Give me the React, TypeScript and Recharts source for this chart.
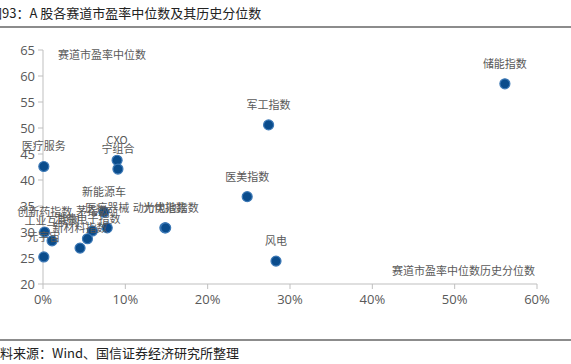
import { ScatterChart, Scatter, XAxis, YAxis } from 'recharts'

// 赛道名称、历史分位数(%)、市盈率中位数
const tracks = [
  '储能指数', '军工指数', '医美指数', '风电', '医疗服务', 'CXO', '宁组合',
  '光伏指数', '动力电池指数', '新能源车', '医疗器械', '创新药指数', '茅指数',
  '工业互联网', '消费电子指数', '新材料指数', '元宇宙',
]
const percentile = [
  56.1, 27.4, 24.8, 28.3, 0.1, 9.0, 9.1,
  14.8, 14.9, 7.4, 7.8, 0.2, 6.0,
  1.1, 5.4, 4.5, 0.1,
]
const medianPe = [
  58.5, 50.6, 36.8, 24.4, 42.6, 43.8, 42.1,
  30.8, 30.8, 33.8, 30.8, 30.0, 30.2,
  28.3, 28.7, 26.9, 25.2,
]
const xTicks = [0, 10, 20, 30, 40, 50, 60]
const yTicks = [20, 25, 30, 35, 40, 45, 50, 55, 60, 65]

const data = tracks.map((name, i) => ({ name, x: percentile[i], y: medianPe[i] }))

const grey = '#595959'
const cjk = '"Noto Sans CJK SC", "Noto Sans", sans-serif'
const tickFont = '"Open Sans", "Noto Sans CJK SC", sans-serif'

function PointWithLabel(props: any) {
  const { cx, cy, payload } = props
  return (
    <g>
      <circle cx={cx} cy={cy} r={5} fill="#0a4c8c" stroke="#3d79b6" strokeWidth={1.2} />
      <text x={cx} y={cy - 16} textAnchor="middle" fontSize={11} fill={grey} fontFamily={cjk}>
        {payload.name}
      </text>
    </g>
  )
}

export default function App() {
  return (
    <div style={{ position: 'relative', width: 571, height: 364, overflow: 'hidden', background: '#fff' }}>
      <style>{'body{margin:0}'}</style>
      <div
        style={{
          position: 'absolute', left: -11, top: 4, fontSize: 13, fontFamily: cjk,
          color: '#222', whiteSpace: 'nowrap', lineHeight: '18px',
        }}
      >
        图93：A 股各赛道市盈率中位数及其历史分位数
      </div>
      <div style={{ position: 'absolute', left: 0, top: 26, width: 571, height: 1.5, background: '#8c8c8c' }} />

      <div style={{ position: 'absolute', left: 0, top: 0 }}>
        <ScatterChart width={571} height={364} margin={{ top: 50, right: 34, bottom: 50, left: 0 }}>
          <XAxis
            type="number"
            dataKey="x"
            domain={[0, 60]}
            ticks={xTicks}
            tickFormatter={(v) => `${v}%`}
            height={30}
            stroke="#bfbfbf"
            tickSize={5}
            tickMargin={6}
            tick={{ fill: grey, fontSize: 13, fontFamily: tickFont }}
          />
          <YAxis
            type="number"
            dataKey="y"
            domain={[20, 65]}
            ticks={yTicks}
            width={43}
            stroke="#bfbfbf"
            tickSize={5}
            tickMargin={3}
            tick={{ fill: grey, fontSize: 13, fontFamily: tickFont }}
          />
          <Scatter data={data} shape={PointWithLabel} isAnimationActive={false} />
        </ScatterChart>
      </div>

      <div style={{ position: 'absolute', left: 58, top: 46, fontSize: 11, color: grey, fontFamily: cjk, whiteSpace: 'nowrap' }}>
        赛道市盈率中位数
      </div>
      <div style={{ position: 'absolute', left: 392, top: 262, fontSize: 11, color: grey, fontFamily: cjk, whiteSpace: 'nowrap' }}>
        赛道市盈率中位数历史分位数
      </div>

      <div style={{ position: 'absolute', left: 0, top: 339, width: 571, height: 1.5, background: '#8c8c8c' }} />
      <div
        style={{
          position: 'absolute', left: -13, top: 344, fontSize: 13, fontFamily: cjk,
          color: '#222', whiteSpace: 'nowrap', lineHeight: '17px',
        }}
      >
        资料来源：Wind、国信证券经济研究所整理
      </div>
    </div>
  )
}
